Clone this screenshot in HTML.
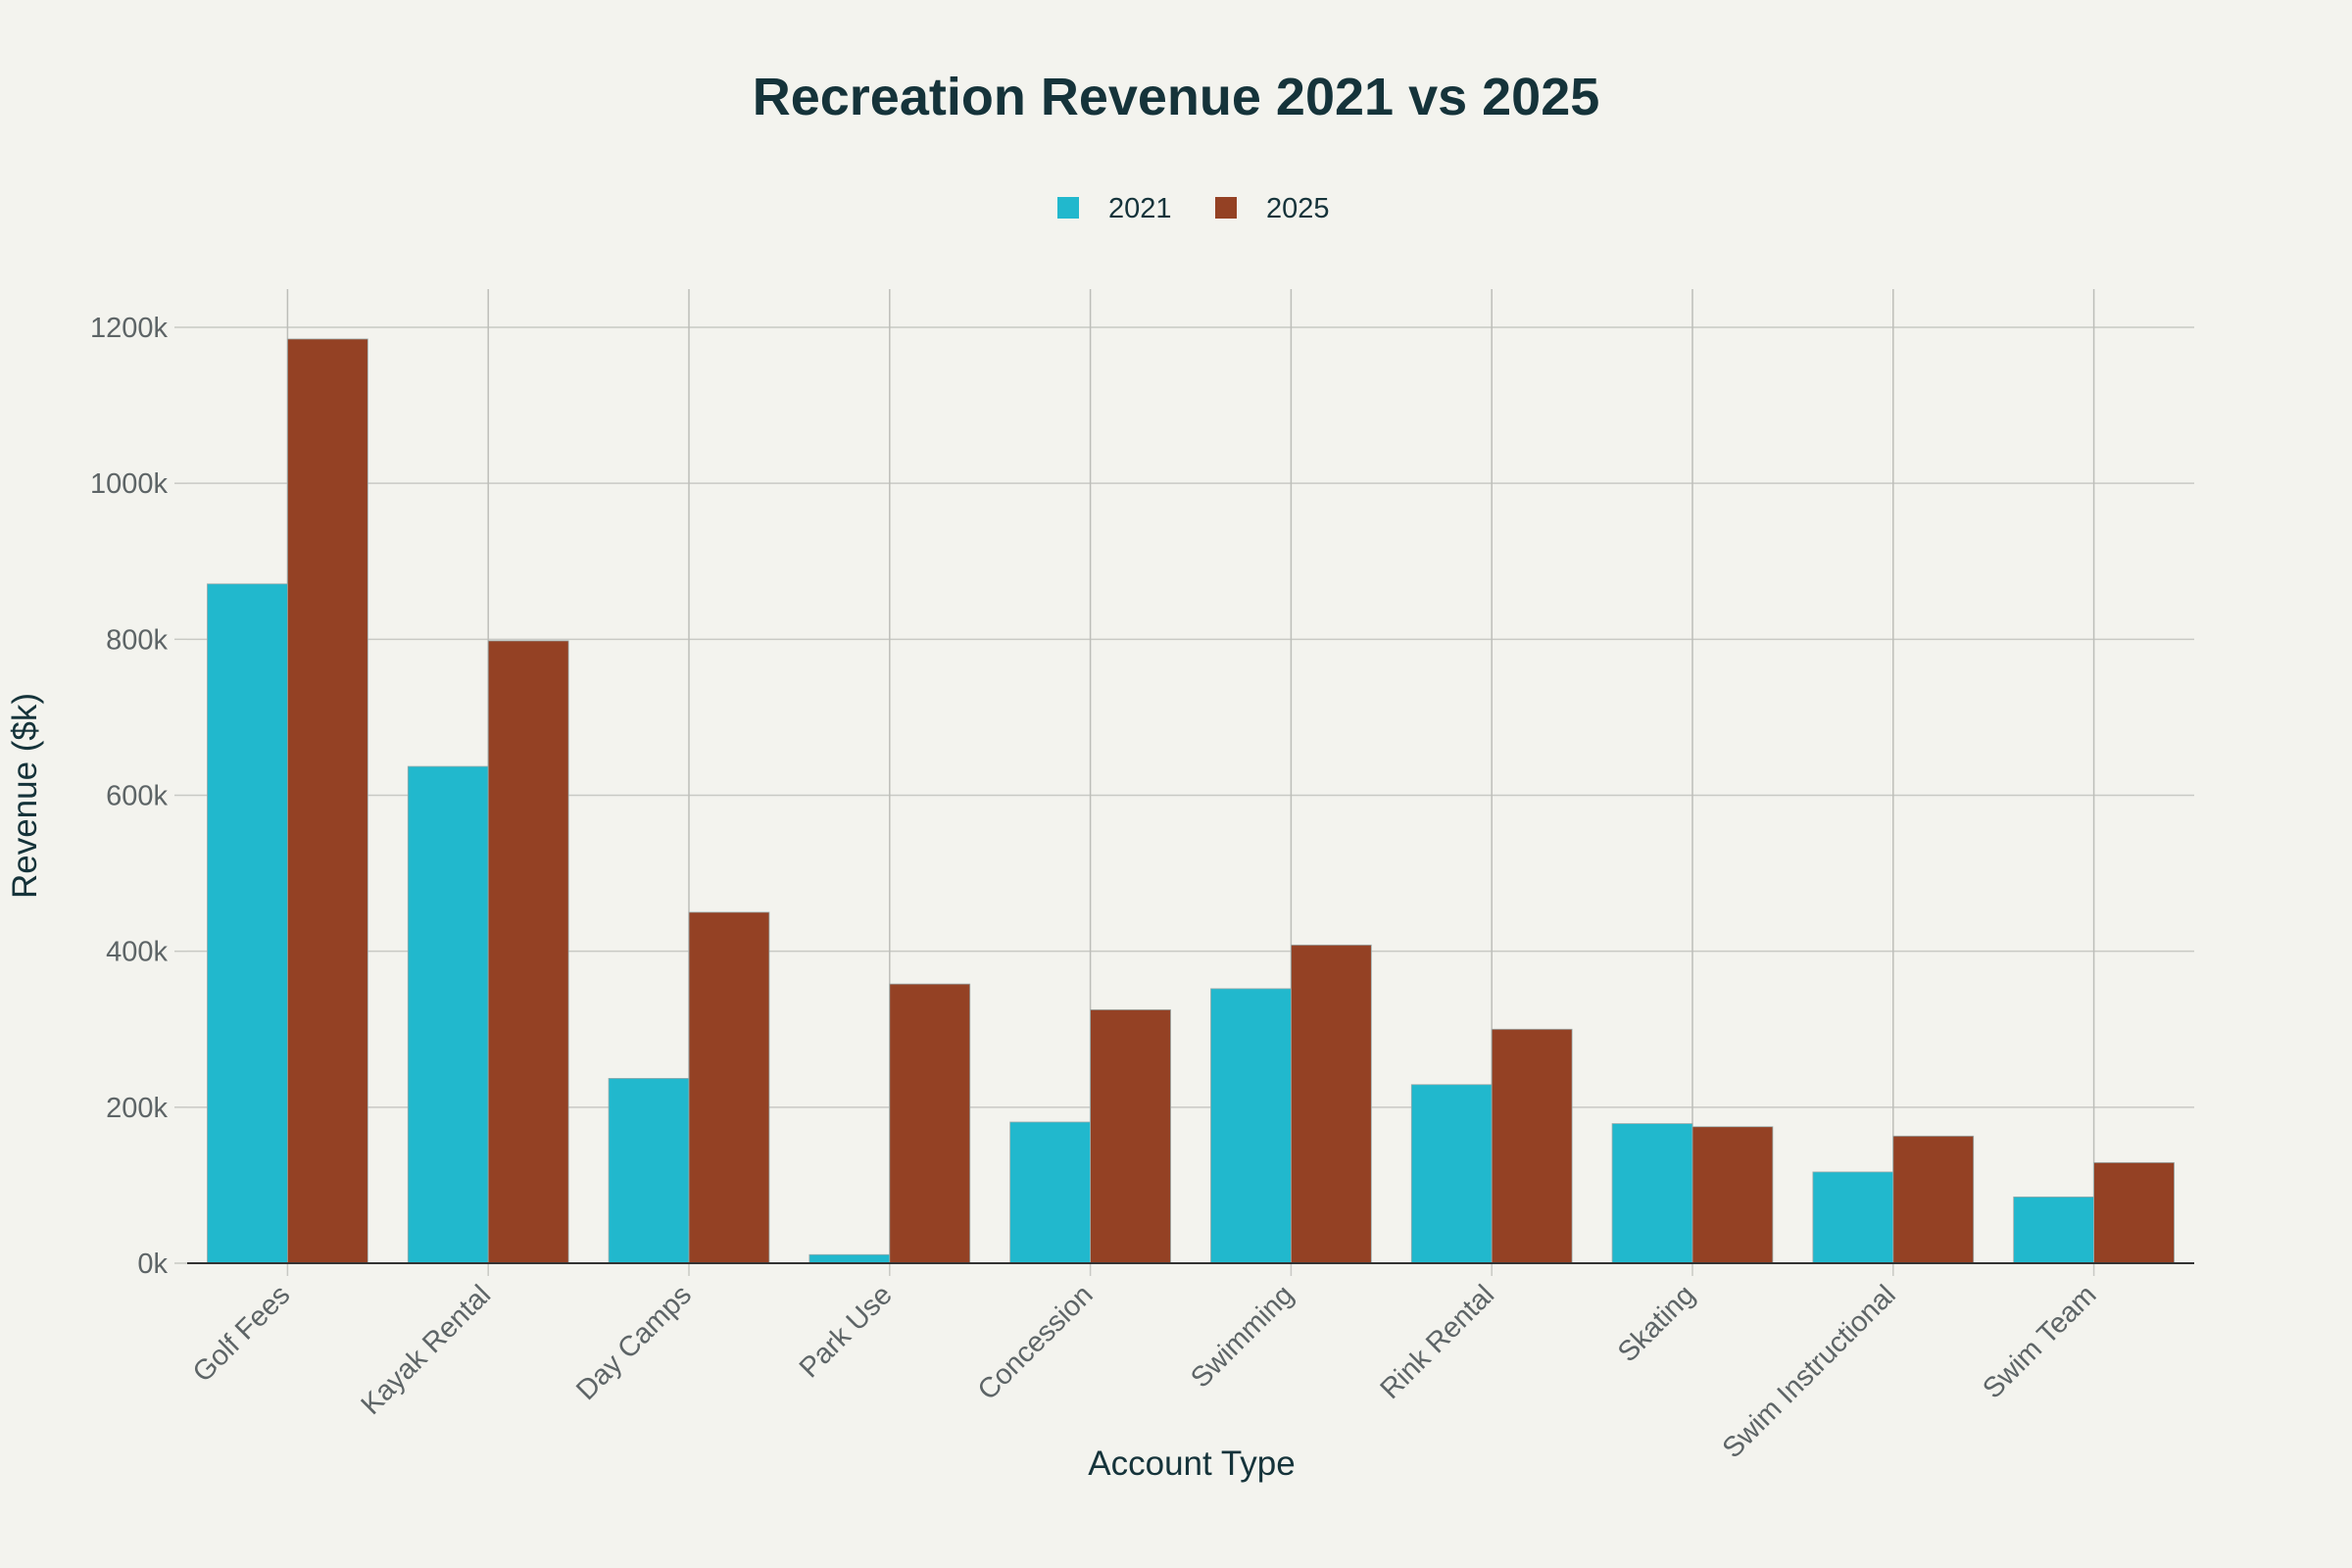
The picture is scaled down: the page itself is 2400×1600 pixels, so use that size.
<!DOCTYPE html>
<html><head><meta charset="utf-8"><style>
html,body{margin:0;padding:0;background:#f3f3ee;}
svg{display:block;font-family:"Liberation Sans",sans-serif;}
</style></head><body>
<svg id="chart" width="2400" height="1600" viewBox="0 0 2400 1600" xmlns="http://www.w3.org/2000/svg">
<rect width="2400" height="1600" fill="#f3f3ee"/>
<text x="1200" y="117" text-anchor="middle" font-size="54" font-weight="bold" fill="#15333a">Recreation Revenue 2021 vs 2025</text>
<g>
<rect x="1079" y="201" width="22" height="22" fill="#21b8cd"/>
<text x="1131" y="222" font-size="29" fill="#15333a">2021</text>
<rect x="1240" y="201" width="22" height="22" fill="#944124"/>
<text x="1292" y="222" font-size="29" fill="#15333a">2025</text>
</g>
<g id="grid"></g>
<g id="bars"></g>
<g id="axes"></g>
<text x="1216" y="1505" text-anchor="middle" font-size="35" fill="#15333a">Account Type</text>
<text transform="translate(37,812) rotate(-90)" text-anchor="middle" font-size="35" fill="#15333a">Revenue ($k)</text>
</svg>
<script>
const categories = ["Golf Fees","Kayak Rental","Day Camps","Park Use","Concession","Swimming","Rink Rental","Skating","Swim Instructional","Swim Team"];
const values2021 = [871,637,237,11,181,352,229,179,117,85];
const values2025 = [1185,798,450,358,325,408,300,175,163,129];
const yTicks = [0,200,400,600,800,1000,1200];
const yTickLabels = ["0k","200k","400k","600k","800k","1000k","1200k"];

const NS="http://www.w3.org/2000/svg";
const L=191,R=2239,T=295,Y0=1289,Y1200=334;
const band=(R-L)/categories.length;
function y(v){return Y0-(v/1200)*(Y0-Y1200);}
function xc(i){return L+band*(i+0.5);}
function mk(tag,attrs,parent){const e=document.createElementNS(NS,tag);for(const k in attrs)e.setAttribute(k,attrs[k]);parent.appendChild(e);return e;}
const grid=document.getElementById('grid'),bars=document.getElementById('bars'),axes=document.getElementById('axes');
yTicks.forEach((t,i)=>{
  if(t>0){const g=mk('line',{x1:L,x2:R,y1:y(t),y2:y(t),stroke:'#c8c9c4','stroke-width':1.5},grid);
  
  }
  const tk=mk('line',{x1:L-13,x2:L,y1:y(t),y2:y(t),stroke:'#c8c9c4','stroke-width':1.5},axes);
  
  
  const lb=mk('text',{x:L-20,y:y(t)+10,'text-anchor':'end','font-size':29,fill:'#5d6466'},axes);
  lb.textContent=yTickLabels[i];
  
  
});
categories.forEach((c,i)=>{
  const g=mk('line',{x1:xc(i),x2:xc(i),y1:T,y2:Y0,stroke:'#bdbeb9','stroke-width':1.5},grid);
  
  
  const bw=band*0.4;
  const b1=mk('rect',{x:xc(i)-bw,y:y(values2021[i]),width:bw,height:Y0-y(values2021[i]),fill:'#21b8cd',stroke:'#9aa','stroke-width':0.8},bars);
  
  
  const b2=mk('rect',{x:xc(i),y:y(values2025[i]),width:bw,height:Y0-y(values2025[i]),fill:'#944124',stroke:'#9aa','stroke-width':0.8},bars);
  
  
  const tk=mk('line',{x1:xc(i),x2:xc(i),y1:Y0,y2:Y0+13,stroke:'#c8c9c4','stroke-width':1.5},axes);
  
  
  const lb=mk('text',{transform:`translate(${xc(i)+4},${Y0+34}) rotate(-45)`,'text-anchor':'end','font-size':29,fill:'#5d6466'},axes);
  lb.textContent=c;
  
  
});
const ax=mk('line',{x1:L,x2:R,y1:Y0,y2:Y0,stroke:'#333','stroke-width':2},axes);


</script>
</body></html>
